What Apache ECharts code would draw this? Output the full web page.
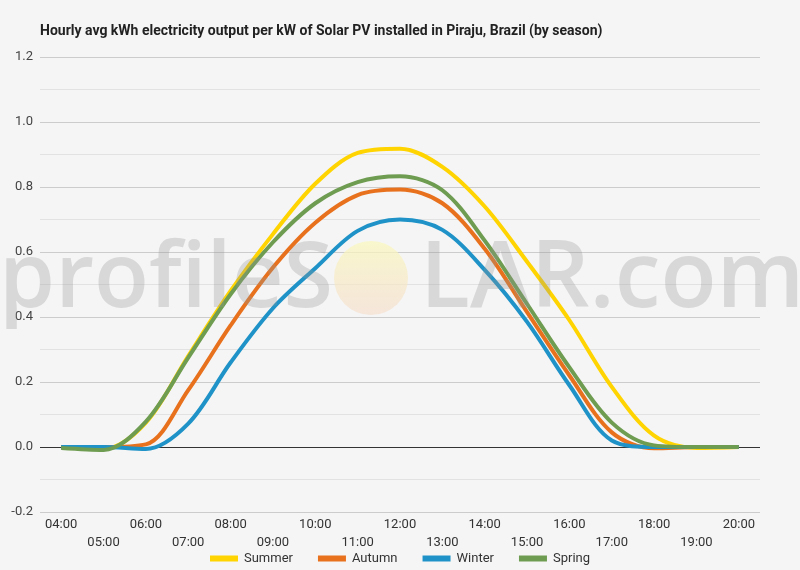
<!DOCTYPE html>
<html>
<head>
<meta charset="utf-8">
<script src="https://cdn.jsdelivr.net/npm/echarts@6/dist/echarts.min.js"></script>
<style>
html,body{margin:0;padding:0;background:#f5f5f5;}
#c{width:800px;height:570px;}
</style>
</head>
<body>
<div id="c"></div>
<script>
var titleText = 'Hourly avg kWh electricity output per kW of Solar PV installed in Piraju, Brazil (by season)';
var hours = ['04:00','05:00','06:00','07:00','08:00','09:00','10:00','11:00','12:00','13:00','14:00','15:00','16:00','17:00','18:00','19:00','20:00'];
var seriesNames = ['Summer','Autumn','Winter','Spring'];
var summer = [0.0, -0.006, 0.075, 0.28, 0.48, 0.655, 0.81, 0.905, 0.918, 0.862, 0.74, 0.57, 0.39, 0.185, 0.035, -0.003, 0.0];
var autumn = [0.0, 0.0, 0.008, 0.175, 0.374, 0.552, 0.69, 0.775, 0.792, 0.75, 0.61, 0.415, 0.22, 0.045, -0.004, 0.0, 0.0];
var winter = [0.0, 0.0, -0.006, 0.072, 0.26, 0.427, 0.55, 0.665, 0.70, 0.668, 0.545, 0.385, 0.19, 0.02, 0.0, 0.0, 0.0];
var spring = [-0.003, -0.009, 0.078, 0.275, 0.47, 0.63, 0.75, 0.815, 0.833, 0.79, 0.635, 0.44, 0.245, 0.075, 0.005, 0.0, 0.0];
var colors = ['#FFD400', '#E8711E', '#1F93C7', '#6E9C50'];

var chart = echarts.init(document.getElementById('c'), null, {renderer:'canvas'});
var allData = [summer, autumn, winter, spring];
var series = seriesNames.map(function(n, i){
  var s = {
    name: n, type: 'line', data: allData[i], smooth: 0.33,
    showSymbol: false, symbol: 'none',
    lineStyle: {width: 4, color: colors[i]},
    itemStyle: {color: colors[i]},
    z: 3
  };
  if (i === 0) {
    s.markLine = {
      silent: true, symbol: ['none','none'], label: {show:false},
      lineStyle: {color:'#333', width:1, type:'solid'},
      data: [{yAxis: 0}],
      z: 2
    };
  }
  return s;
});

chart.setOption({
  backgroundColor: '#f5f5f5',
  animation: false,
  title: {
    text: titleText, left: 35, top: 19,
    textStyle: {fontFamily: 'Roboto', fontSize: 14, fontWeight: 'bold', color: '#222'}
  },
  grid: {left: 40, right: 40, top: 57, bottom: 58},
  legend: {
    data: seriesNames, top: 547, left: 'center',
    icon: 'rect', itemWidth: 28, itemHeight: 6, itemGap: 25,
    textStyle: {fontFamily: 'Roboto', fontSize: 13, color: '#333', padding: [0,0,0,1]}
  },
  xAxis: {
    type: 'category', data: hours, boundaryGap: true,
    axisLine: {show: false}, axisTick: {show: false},
    axisLabel: {
      interval: 0, margin: 4, fontFamily: 'Roboto', fontSize: 13, color: '#333', lineHeight: 18,
      formatter: function(v, i){ return (i % 2 === 1) ? '\n' + v : v; }
    }
  },
  yAxis: {
    type: 'value', min: -0.2, max: 1.2, interval: 0.2,
    axisLine: {show:false}, axisTick: {show:false},
    axisLabel: {
      margin: 7, fontFamily: 'Roboto', fontSize: 13, color: '#444',
      formatter: function(v){ return v.toFixed(1); }
    },
    splitLine: {show: true, lineStyle: {color: '#cccccc', width: 1}},
    minorTick: {show: false, splitNumber: 2},
    minorSplitLine: {show: true, lineStyle: {color: '#e2e2e2', width: 1}}
  },
  graphic: [
    {
      type: 'text', z: 100, silent: true,
      style: {text: 'profileS', x: 333, y: 281, textAlign: 'right', textVerticalAlign: 'middle',
        font: '600 90px "Open Sans"', fill: 'rgba(150,150,150,0.3)'}
    },
    {
      type: 'circle', z: 99, silent: true,
      shape: {cx: 371, cy: 278, r: 37},
      style: {fill: new echarts.graphic.LinearGradient(0,0,0,1,[{offset:0,color:'rgba(250,248,190,0.75)'},{offset:1,color:'rgba(245,220,200,0.6)'}])}
    },
    {
      type: 'text', z: 100, silent: true,
      style: {text: 'LAR.com', x: 420, y: 281, textAlign: 'left', textVerticalAlign: 'middle',
        font: '600 92px "Open Sans"', fill: 'rgba(150,150,150,0.3)'}
    }
  ],
  series: series
});
</script>
</body>
</html>
